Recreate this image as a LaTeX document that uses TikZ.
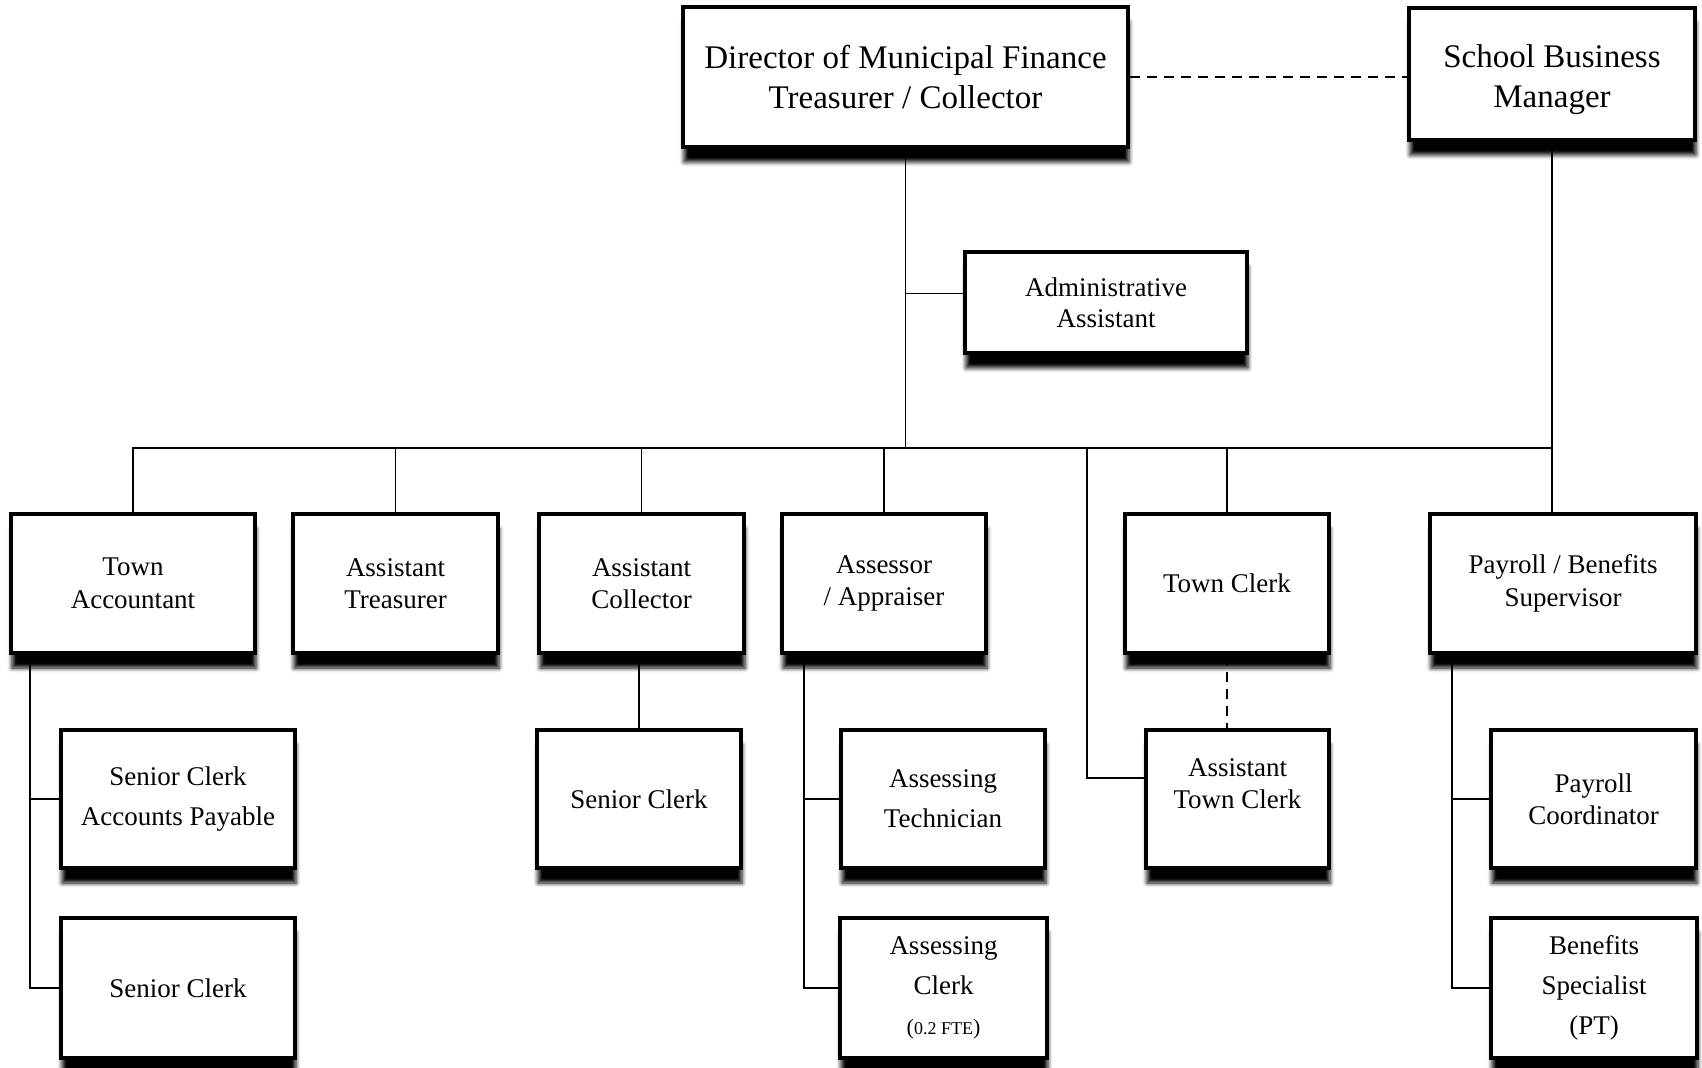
\documentclass[tikz,border=0pt]{standalone}
\usepackage{fontspec}
\setmainfont{Liberation Serif}
\usetikzlibrary{shadows.blur,calc}
\pgfdeclarelayer{bg}
\pgfsetlayers{bg,main}

\tikzset{
  box/.style={draw, line width=2pt, fill=white, align=center, inner sep=2pt,
    blur shadow={shadow xshift=0.5pt, shadow yshift=-7.5pt, shadow blur radius=2.2pt, shadow opacity=100}},
  sz/.style 2 args={minimum width=#1*0.5pt, minimum height=#2*0.5pt},
  bigtxt/.style={font=\fontsize{16.5}{20}\selectfont},
  midtxt/.style={font=\fontsize{13.5}{16.3}\selectfont},
  widetxt/.style={font=\fontsize{13.5}{20}\selectfont},
  link/.style={line width=0.8pt},
  dlink/.style={line width=0.8pt, dash pattern=on 5pt off 3.5pt},
}

\begin{document}
\begin{tikzpicture}[x=0.5pt, y=-0.5pt]
\useasboundingbox (0,0) rectangle (1702,1068);

% top level
\node[box,bigtxt,sz={445}{140}] (dir) at (905.5,77) {Director of Municipal Finance\\Treasurer / Collector};
\node[box,bigtxt,sz={286}{132}] (sbm) at (1552,74) {\rule{0pt}{17pt}School Business\\Manager};
\node[box,font=\fontsize{13.5}{15.5}\selectfont,sz={282}{101}] (adm) at (1106,302.5) {Administrative\\Assistant};

% department heads
\node[box,midtxt,sz={244}{139}] (acct) at (133,583.5) {Town\\Accountant};
\node[box,midtxt,sz={205}{139}] (atreas) at (395.5,583.5) {Assistant\\Treasurer};
\node[box,midtxt,sz={205}{139}] (acoll) at (641.5,583.5) {Assistant\\Collector};
\node[box,midtxt,sz={204}{139}] (assr) at (884,583.5) {Assessor\\/ Appraiser};
\node[box,midtxt,sz={204}{139}] (tclerk) at (1227,583.5) {Town Clerk};
\node[box,midtxt,sz={266}{139}] (pbsup) at (1563,583.5) {Payroll / Benefits\\Supervisor};

% staff
\node[box,widetxt,sz={234}{138}] (scap) at (178,799) {Senior Clerk\\Accounts Payable};
\node[box,midtxt,sz={204}{138}] (scoll) at (639,799) {Senior Clerk};
\node[box,widetxt,sz={204}{138}] (atech) at (943,799) {Assessing\\Technician};
\node[box,font=\fontsize{13.5}{16}\selectfont,sz={183}{138}] (atc) at (1237.5,799) {Assistant\\Town Clerk\rule[-15pt]{0pt}{15pt}};
\node[box,font=\fontsize{13.5}{16}\selectfont,sz={205}{138}] (pcoord) at (1593.5,799) {Payroll\\Coordinator};

\node[box,midtxt,sz={234}{140}] (sclerk) at (178,988) {Senior Clerk};
\node[box,widetxt,sz={207}{140}] (aclerk) at (943.5,988) {Assessing\\Clerk\\{\fontsize{11}{12}\selectfont(\fontsize{9}{12}\selectfont0.2 FTE\fontsize{11}{12}\selectfont)}};
\node[box,widetxt,sz={206}{140}] (bspec) at (1594,988) {Benefits\\Specialist\\(PT)};

\begin{pgfonlayer}{bg}
  \coordinate (bus) at (907,448);
  \coordinate (side) at (1087,448);
  \coordinate (acctspine) at (30,0);
  \coordinate (assrspine) at (804,0);
  \coordinate (pbspine) at (1452,0);
  \coordinate (admin in) at ($(adm.west)+(0,-9)$);
  \coordinate (atc in) at ($(atc.west)+(0,-21)$);

  % main trunk and bus
  \draw[link] (dir.south) -- (dir.south |- bus);
  \draw[link] (acct.north) -- (acct.north |- bus) -- (sbm.south |- bus);
  \draw[link] (sbm.south) -- (sbm.south |- pbsup.north);
  \draw[link] (admin in -| dir.south) -- (admin in);
  \draw[dlink] (dir.east) -- (dir.east -| sbm.west);

  % drops to department heads
  \draw[link] (atreas.north) -- (atreas.north |- bus);
  \draw[link] (acoll.north) -- (acoll.north |- bus);
  \draw[link] (assr.north) -- (assr.north |- bus);
  \draw[link] (tclerk.north) -- (tclerk.north |- bus);
  \draw[link] (side) -- (side |- atc in) -- (atc in);
  \draw[dlink] (tclerk.south) -- (tclerk.south |- atc.north);

  % staff branches
  \draw[link] (acct.south -| acctspine) -- (acctspine |- sclerk.west) -- (sclerk.west);
  \draw[link] (acctspine |- scap.west) -- (scap.west);
  \draw[link] (scoll.north |- acoll.south) -- (scoll.north);
  \draw[link] (assr.south -| assrspine) -- (assrspine |- aclerk.west) -- (aclerk.west);
  \draw[link] (assrspine |- atech.west) -- (atech.west);
  \draw[link] (pbsup.south -| pbspine) -- (pbspine |- bspec.west) -- (bspec.west);
  \draw[link] (pbspine |- pcoord.west) -- (pcoord.west);
\end{pgfonlayer}
\end{tikzpicture}
\end{document}
